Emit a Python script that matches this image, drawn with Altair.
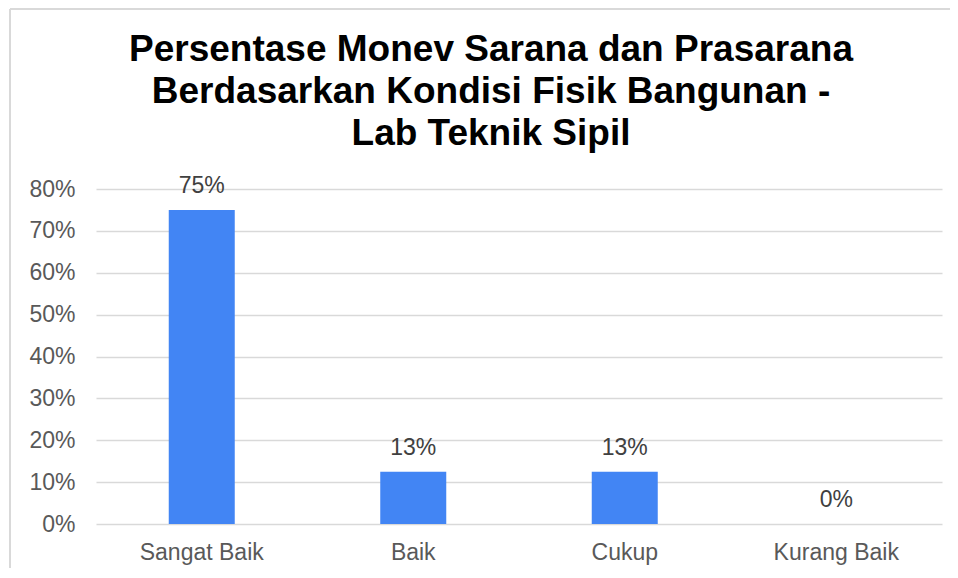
import altair as alt
import pandas as pd

categories = ["Sangat Baik", "Baik", "Cukup", "Kurang Baik"]
values = [0.75, 0.125, 0.125, 0.0]
y_ticks = [0, 0.1, 0.2, 0.3, 0.4, 0.5, 0.6, 0.7, 0.8]
title_lines = ["Persentase Monev Sarana dan Prasarana",
               "Berdasarkan Kondisi Fisik Bangunan -",
               "Lab Teknik Sipil"]

df = pd.DataFrame({"cat": categories, "val": values})

W, H = 846, 335
FONT = "Liberation Sans"
LBL = 23

x_enc = alt.X("cat:N", sort=categories, title=None,
              scale=alt.Scale(paddingInner=0, paddingOuter=0),
              axis=alt.Axis(labelAngle=0, labelFontSize=LBL, labelColor="#595959",
                            labelFont=FONT, labelPadding=17, ticks=False, domain=False))
y_enc = alt.Y("val:Q", title=None,
              scale=alt.Scale(domain=[0, 0.8], nice=False),
              axis=alt.Axis(values=y_ticks, format=".0%", labelFontSize=LBL,
                            labelColor="#595959", labelFont=FONT, labelPadding=21,
                            ticks=False, domain=False, grid=True,
                            gridColor="#d9d9d9", gridWidth=1.5))

bars = alt.Chart(df).mark_bar(size=66, color="#4285F4").encode(x=x_enc, y=y_enc)
labels = alt.Chart(df).mark_text(dy=-17, baseline="alphabetic", fontSize=LBL,
                                 font=FONT, color="#404040").encode(
    x=alt.X("cat:N", sort=categories),
    y=alt.Y("val:Q"),
    text=alt.Text("val:Q", format=".0%"))

one = pd.DataFrame({"a": [0]})
left_border = alt.Chart(one).mark_rule(color="#d9d9d9", strokeWidth=2).encode(
    x=alt.value(-86), y=alt.value(-180), y2=alt.value(H + 60))
top_border = alt.Chart(one).mark_rule(color="#d9d9d9", strokeWidth=2).encode(
    x=alt.value(-86), x2=alt.value(W + 30), y=alt.value(-180))

title = alt.Chart(one).mark_text(
    text=title_lines, fontSize=37, font=FONT, fontWeight="bold", color="#000000",
    lineHeight=42, align="center", baseline="alphabetic").encode(
    x=alt.value(395), y=alt.value(-128))

chart = alt.layer(left_border, top_border, title, bars, labels).properties(
    width=W, height=H,
    autosize=alt.AutoSizeParams(type="none"),
    padding={"left": 88, "top": 181, "right": 8, "bottom": 44},
).configure_view(stroke=None)

chart.save("out.html", embed_options={"renderer": "svg", "actions": False})
